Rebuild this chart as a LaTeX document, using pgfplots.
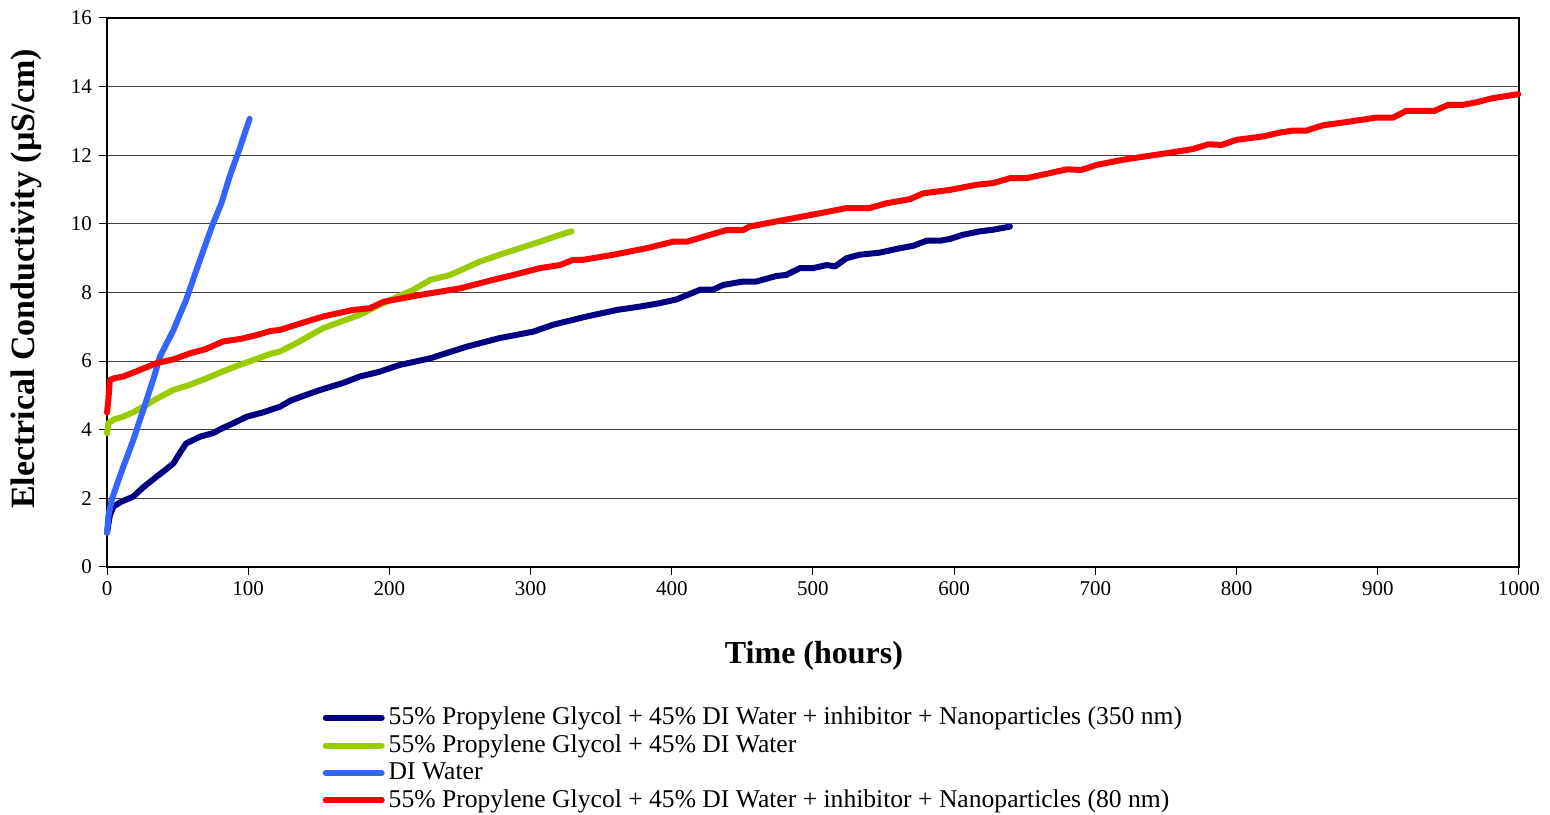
\documentclass[border=0pt]{standalone}
\usepackage{pgfplots}
\pgfplotsset{compat=1.18}
\usepackage{fontspec}
\setmainfont{Liberation Serif}
\definecolor{cnavy}{RGB}{0,0,128}
\definecolor{cgreen}{RGB}{153,204,0}
\definecolor{cblue}{RGB}{51,102,255}
\definecolor{cred}{RGB}{255,0,0}
\begin{document}
\begin{tikzpicture}
\begin{axis}[
  scale only axis,
  width=706bp, height=274.5bp,
  xmin=0, xmax=1000, ymin=0, ymax=16,
  xtick={0,100,...,1000}, ytick={0,2,...,16},
  /pgf/number format/assume math mode=true,
  /pgf/number format/1000 sep={},
  tick label style={font=\fontsize{10.5bp}{12bp}\selectfont},
  tick align=outside, tick pos=left,
  major tick length=4bp,
  tick style={black, line width=0.5bp},
  axis line style={black, line width=1bp},
  ymajorgrids, grid style={black!75, line width=0.5bp},
  xlabel={\bfseries Time (hours)},
  ylabel={\bfseries Electrical Conductivity (µS/cm)},
  xlabel style={font=\fontsize{16bp}{19bp}\selectfont, at={(axis description cs:0.5007,-0.162)}, anchor=center},
  ylabel style={font=\fontsize{17bp}{20bp}\selectfont, at={(axis description cs:-0.057,0.5246)}, anchor=center},
  legend style={at={(axis description cs:0.1525,-0.2475)}, anchor=north west,
    draw=none, fill=none, font=\fontsize{12.8bp}{14bp}\selectfont,
    row sep=-0.4bp, inner sep=0pt},
  legend cell align=left,
  legend image code/.code={\draw[#1, line width=3bp] (0bp,0bp) -- (28bp,0bp);},
  every axis plot/.append style={line width=3bp, line join=round, line cap=round},
  clip=false,
]
\addplot[cnavy] coordinates {
(0,1.0)(2,1.5)(4.5,1.76)(10,1.9)(18.6,2.05)(25,2.3)(35,2.63)(42,2.85)(47,3.02)
(52,3.35)(56,3.6)(62,3.72)(66,3.8)(75,3.9)(82,4.05)(90,4.2)(99,4.38)(110,4.5)
(122.5,4.67)(130,4.85)(140,5.0)(151,5.16)(167,5.36)(179,5.55)(193,5.69)
(207.5,5.89)(228.8,6.08)(254.7,6.42)(278,6.67)(302,6.86)(316,7.06)(339.7,7.3)
(361,7.49)(377.5,7.59)(391.6,7.69)(403.5,7.8)(420,8.08)(429,8.08)(436.5,8.22)
(450.6,8.32)(460,8.32)(474,8.48)(481,8.51)(490.8,8.71)(500,8.71)(509.7,8.8)
(515.6,8.76)(523.8,9.0)(533,9.1)(547,9.16)(561.6,9.29)(571,9.36)(580.5,9.51)
(590,9.51)(597,9.56)(606,9.68)(618,9.78)(627.7,9.83)(639.5,9.92)
};
\addlegendentry{55\% Propylene Glycol + 45\% DI Water + inhibitor + Nanoparticles (350 nm)}
\addplot[cgreen] coordinates {
(0,3.9)(1,4.19)(5,4.3)(11.5,4.38)(18,4.5)(25.7,4.67)(35,4.9)(47,5.16)(58,5.3)
(70.6,5.5)(82,5.7)(94,5.89)(105,6.05)(115,6.2)(122.5,6.28)(134,6.52)(153,6.96)
(179,7.35)(193,7.64)(217,8.08)(229,8.37)(243,8.51)(264,8.9)(281,9.14)
(306.7,9.48)(320.8,9.68)(329,9.78)
};
\addlegendentry{55\% Propylene Glycol + 45\% DI Water}
\addplot[cblue] coordinates {
(0,1.0)(1,1.5)(3.3,1.95)(7,2.4)(11.5,2.92)(15,3.3)(18.6,3.7)(23,4.25)(28,4.87)
(33,5.5)(37.5,6.13)(42,6.5)(47,6.9)(51,7.3)(56,7.78)(62,8.5)(68,9.2)(75,10.0)
(81,10.6)(87,11.4)(94,12.2)(101,13.06)
};
\addlegendentry{DI Water}
\addplot[cred] coordinates {
(0,4.5)(1,4.9)(2,5.45)(5,5.5)(11.5,5.55)(23,5.74)(35,5.94)(47,6.05)(59,6.23)
(70,6.35)(82,6.57)(95,6.65)(106,6.76)(116,6.88)(122.5,6.91)(134,7.06)(153,7.30)
(174,7.49)(186,7.54)(196,7.73)(222,7.93)(250,8.12)(273.6,8.37)(287.7,8.51)
(306.7,8.71)(320.8,8.8)(330,8.95)(337,8.95)(358.6,9.1)(382,9.29)(401,9.48)
(410.5,9.48)(438.8,9.82)(450.6,9.82)(455,9.92)(474,10.07)(505,10.31)
(523.8,10.46)(540,10.46)(552,10.6)(568.7,10.72)(578,10.89)(597,10.99)
(616,11.14)(627.7,11.19)(639.5,11.33)(651,11.33)(667.8,11.48)(679.7,11.59)
(690,11.57)(701,11.72)(719.8,11.87)(750.5,12.06)(769,12.18)(780,12.32)
(789.4,12.3)(800,12.45)(819,12.55)(830.7,12.66)(840,12.72)(849.6,12.72)
(861,12.87)(880,12.98)(899,13.1)(911,13.1)(920,13.29)(940,13.29)(950,13.47)
(960.6,13.47)(969.5,13.54)(981,13.66)(999.5,13.78)
};
\addlegendentry{55\% Propylene Glycol + 45\% DI Water + inhibitor + Nanoparticles (80 nm)}
\path (axis description cs:-0.0758,-0.4463) rectangle (axis description cs:1.0220,1.0328);
\end{axis}
\end{tikzpicture}
\end{document}
